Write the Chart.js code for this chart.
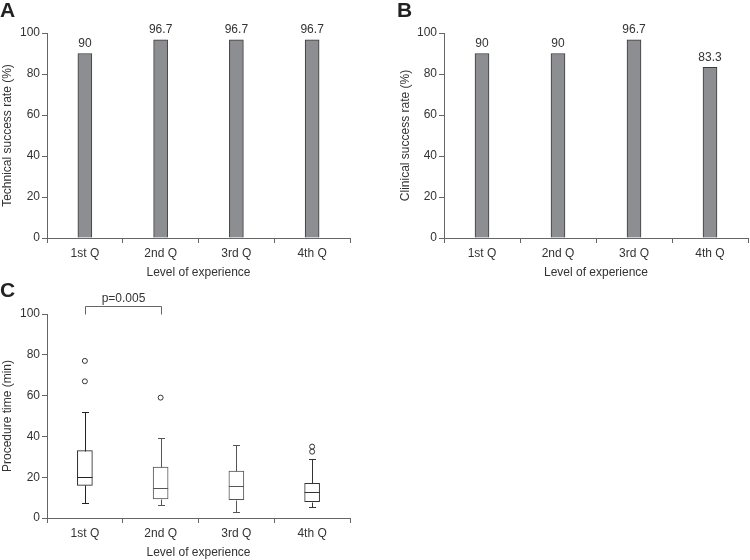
<!DOCTYPE html>
<html>
<head>
<meta charset="utf-8">
<script src="https://cdn.jsdelivr.net/npm/chart.js@4.4.1/dist/chart.umd.min.js"></script>
<style>
    body { margin: 0; background: #fff; width: 750px; height: 560px; position: relative; overflow: hidden; font-family: "Liberation Sans", Arial, sans-serif; }
    canvas { position: absolute; }
    .tag { position: absolute; font-weight: bold; font-size: 21px; line-height: 1; color: #222; }
</style>
</head>
<body>
<canvas id="chartA" width="370" height="280" style="left:0;top:0"></canvas>
<canvas id="chartB" width="354" height="280" style="left:396px;top:0"></canvas>
<canvas id="chartC" width="370" height="280" style="left:0;top:280px"></canvas>
<div class="tag" style="left:0;top:-1px">A</div>
<div class="tag" style="left:397px;top:-1px">B</div>
<div class="tag" style="left:0;top:279px">C</div>
<script>
// data
const quarters = ["1st Q", "2nd Q", "3rd Q", "4th Q"];
const yTicks = [0, 20, 40, 60, 80, 100];

const technicalRate = [90, 96.7, 96.7, 96.7];
const clinicalRate = [90, 90, 96.7, 83.3];

// procedure time (min), box plot per quarter
const timeMin = [7.5, 6.3, 3, 5.5];
const timeQ1 = [16, 9.3, 9, 8];
const timeMedian = [20, 14.5, 15.5, 12.7];
const timeQ3 = [33, 25, 23, 17];
const timeMax = [52, 39, 36, 29];
const timeOutliers = [[77, 67], [59], [], [35, 32.5]];

const pValueLabel = "p=0.005";
const bracketPair = [0, 1];
const bracketTop = 104;
const bracketArm = 100;

const textColor = "#333";
const axisColor = "#666";
const barFill = "#8d8e92";
const barEdge = "#3a3a3a";
const boxColors = ["#222", "#555", "#555", "#333"];
const font = { family: '"Liberation Sans", Arial, sans-serif', size: 12 };

function makeScales(yTitle, yWidth, titlePad) {
    return {
        x: {
            grid: { display: true, drawOnChartArea: false, drawTicks: true, tickLength: 5, color: axisColor, offset: true },
            border: { display: true, color: axisColor },
            ticks: { color: textColor, font: font, padding: 3 },
            title: { display: true, text: "Level of experience", color: textColor, font: font, padding: { top: 0, bottom: 0 } },
            afterFit: (s) => { s.height = 42; },
        },
        y: {
            min: 0,
            max: 100,
            afterBuildTicks: (s) => { s.ticks = yTicks.map((v) => ({ value: v })); },
            grid: { display: true, drawOnChartArea: false, tickLength: 5, color: axisColor },
            border: { color: axisColor },
            ticks: { color: textColor, font: font, padding: 2 },
            title: { display: true, text: yTitle, color: textColor, font: font, padding: { top: titlePad, bottom: 0 } },
            afterFit: (s) => { s.width = yWidth; },
        },
    };
}

const baseOptions = {
    responsive: false,
    animation: false,
    devicePixelRatio: 1,
    plugins: { legend: { display: false }, tooltip: { enabled: false } },
};

// value labels above the bars
const barLabels = {
    id: "barLabels",
    afterDatasetsDraw(chart) {
        const ctx = chart.ctx;
        const values = chart.data.datasets[0].data;
        ctx.save();
        ctx.font = '12px "Liberation Sans", Arial, sans-serif';
        ctx.fillStyle = textColor;
        ctx.textAlign = "center";
        ctx.textBaseline = "bottom";
        chart.getDatasetMeta(0).data.forEach((bar, i) => {
            ctx.fillText(String(values[i]), bar.x, bar.y - 4);
        });
        ctx.restore();
    },
};

function rateChart(id, values, yTitle, yWidth, rightPad, titlePad) {
    return new Chart(document.getElementById(id), {
        type: "bar",
        data: {
            labels: quarters,
            datasets: [{
                data: values,
                backgroundColor: barFill,
                borderColor: barEdge,
                borderWidth: 1,
                barThickness: 14,
            }],
        },
        options: {
            ...baseOptions,
            layout: { padding: { top: 33, right: rightPad, left: 0, bottom: 0 } },
            scales: makeScales(yTitle, yWidth, titlePad),
        },
        plugins: [barLabels],
    });
}

rateChart("chartA", technicalRate, "Technical success rate (%)", 47, 20, 0);
rateChart("chartB", clinicalRate, "Clinical success rate (%)", 48, 2, 2);

// whiskers, medians and the p-value bracket
const boxExtras = {
    id: "boxExtras",
    afterDatasetsDraw(chart) {
        const { ctx, scales: { x, y } } = chart;
        const capHalf = 3.5;
        ctx.save();
        ctx.lineWidth = 1;
        chart.getDatasetMeta(0).data.forEach((box, i) => {
            const cx = Math.round(box.x) + 0.5;
            const left = box.x - box.width / 2;
            const right = box.x + box.width / 2;
            const py = (v) => Math.round(y.getPixelForValue(v)) + 0.5;
            ctx.strokeStyle = boxColors[i];
            ctx.beginPath();
            ctx.moveTo(cx, py(timeQ3[i]));
            ctx.lineTo(cx, py(timeMax[i]));
            ctx.moveTo(cx - capHalf, py(timeMax[i]));
            ctx.lineTo(cx + capHalf, py(timeMax[i]));
            ctx.moveTo(cx, py(timeQ1[i]));
            ctx.lineTo(cx, py(timeMin[i]));
            ctx.moveTo(cx - capHalf, py(timeMin[i]));
            ctx.lineTo(cx + capHalf, py(timeMin[i]));
            ctx.moveTo(left, py(timeMedian[i]));
            ctx.lineTo(right, py(timeMedian[i]));
            ctx.stroke();
        });

        const x0 = Math.round(x.getPixelForValue(bracketPair[0])) + 0.5;
        const x1 = Math.round(x.getPixelForValue(bracketPair[1])) + 0.5;
        const yTop = Math.round(y.getPixelForValue(bracketTop)) + 0.5;
        const yArm = Math.round(y.getPixelForValue(bracketArm)) + 0.5;
        ctx.strokeStyle = axisColor;
        ctx.beginPath();
        ctx.moveTo(x0, yArm);
        ctx.lineTo(x0, yTop);
        ctx.lineTo(x1, yTop);
        ctx.lineTo(x1, yArm);
        ctx.stroke();

        ctx.font = '12px "Liberation Sans", Arial, sans-serif';
        ctx.fillStyle = textColor;
        ctx.textAlign = "center";
        ctx.textBaseline = "bottom";
        ctx.fillText(pValueLabel, (x0 + x1) / 2, yTop - 2);
        ctx.restore();
    },
};

const outlierPoints = timeOutliers.flatMap((vals, i) => vals.map((v) => ({ x: quarters[i], y: v })));

new Chart(document.getElementById("chartC"), {
    type: "bar",
    data: {
        labels: quarters,
        datasets: [
            {
                type: "bar",
                data: quarters.map((_, i) => [timeQ1[i], timeQ3[i]]),
                backgroundColor: "#fff",
                borderColor: boxColors,
                borderWidth: 1,
                borderSkipped: false,
                barThickness: 15,
            },
            {
                type: "scatter",
                data: outlierPoints,
                pointRadius: 2.5,
                pointBackgroundColor: "#fff",
                pointBorderColor: "#333",
                pointBorderWidth: 1,
                showLine: false,
            },
        ],
    },
    options: {
        ...baseOptions,
        layout: { padding: { top: 34, right: 20, left: 0, bottom: 0 } },
        scales: makeScales("Procedure time (min)", 47, 0),
    },
    plugins: [boxExtras],
});
</script>
</body>
</html>
